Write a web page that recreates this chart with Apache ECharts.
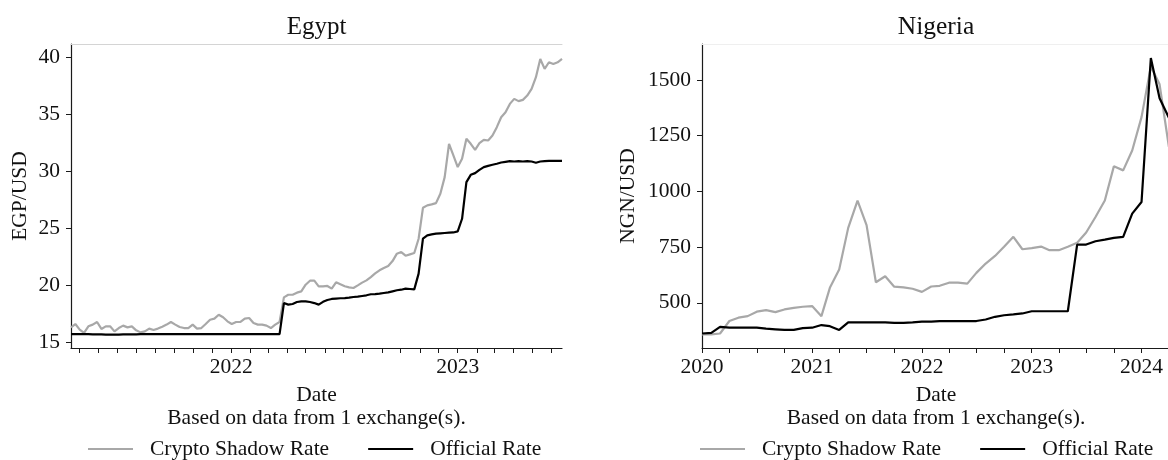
<!DOCTYPE html>
<html>
<head>
<meta charset="utf-8">
<script src="https://cdn.jsdelivr.net/npm/echarts@6/dist/echarts.min.js"></script>
<style>
html, body { margin: 0; padding: 0; background: #ffffff; }
#chart { width: 1168px; height: 460px; }
</style>
</head>
<body>
<div id="chart"></div>
<script>
// ---- Egypt: weekly observations ----
const egyptDates = [
  '2021-04-18','2021-04-25','2021-05-02','2021-05-09','2021-05-16','2021-05-23','2021-05-30','2021-06-06',
  '2021-06-13','2021-06-20','2021-06-27','2021-07-04','2021-07-11','2021-07-18','2021-07-25','2021-08-01',
  '2021-08-08','2021-08-15','2021-08-22','2021-08-29','2021-09-05','2021-09-12','2021-09-19','2021-09-26',
  '2021-10-03','2021-10-10','2021-10-17','2021-10-24','2021-10-31','2021-11-07','2021-11-14','2021-11-21',
  '2021-11-28','2021-12-05','2021-12-12','2021-12-19','2021-12-26','2022-01-02','2022-01-09','2022-01-16',
  '2022-01-23','2022-01-30','2022-02-06','2022-02-13','2022-02-20','2022-02-27','2022-03-06','2022-03-13',
  '2022-03-20','2022-03-27','2022-04-03','2022-04-10','2022-04-17','2022-04-24','2022-05-01','2022-05-08',
  '2022-05-15','2022-05-22','2022-05-29','2022-06-05','2022-06-12','2022-06-19','2022-06-26','2022-07-03',
  '2022-07-10','2022-07-17','2022-07-24','2022-07-31','2022-08-07','2022-08-14','2022-08-21','2022-08-28',
  '2022-09-04','2022-09-11','2022-09-18','2022-09-25','2022-10-02','2022-10-09','2022-10-16','2022-10-23',
  '2022-10-30','2022-11-06','2022-11-13','2022-11-20','2022-11-27','2022-12-04','2022-12-11','2022-12-18',
  '2022-12-25','2023-01-01','2023-01-08','2023-01-15','2023-01-22','2023-01-29','2023-02-05','2023-02-12',
  '2023-02-19','2023-02-26','2023-03-05','2023-03-12','2023-03-19','2023-03-26','2023-04-02','2023-04-09',
  '2023-04-16','2023-04-23','2023-04-30','2023-05-07','2023-05-14','2023-05-21','2023-05-28','2023-06-04',
  '2023-06-11','2023-06-18'
];
const egyptShadow = [
  16.31,16.60,16.11,15.82,16.40,16.55,16.78,16.17,16.40,16.40,15.96,16.25,16.46,16.31,16.40,16.05,
  15.87,15.96,16.20,16.08,16.20,16.37,16.55,16.78,16.55,16.34,16.25,16.25,16.55,16.20,16.25,16.60,
  16.98,17.07,17.42,17.19,16.84,16.60,16.78,16.78,17.07,17.13,16.69,16.55,16.55,16.46,16.25,16.55,
  16.78,18.94,19.17,19.17,19.35,19.46,20.05,20.40,20.40,19.90,19.91,19.94,19.70,20.26,20.08,19.91,
  19.82,19.76,19.99,20.23,20.43,20.72,21.04,21.31,21.51,21.69,22.12,22.77,22.91,22.59,22.71,22.83,
  24.08,26.79,27.00,27.09,27.20,28.02,29.48,32.40,31.38,30.36,31.09,32.84,32.40,31.87,32.46,32.75,
  32.69,33.13,33.86,34.73,35.17,35.90,36.34,36.14,36.25,36.63,37.22,38.24,39.84,38.97,39.55,39.40,
  39.55,39.84
];
const egyptOfficial = [
  15.72,15.72,15.72,15.72,15.71,15.70,15.69,15.69,15.68,15.68,15.68,15.68,15.69,15.69,15.70,15.70,
  15.71,15.71,15.72,15.72,15.72,15.72,15.72,15.72,15.72,15.72,15.72,15.72,15.72,15.72,15.72,15.72,
  15.72,15.72,15.72,15.72,15.72,15.72,15.72,15.72,15.72,15.72,15.72,15.72,15.72,15.72,15.72,15.72,
  15.72,18.44,18.30,18.36,18.53,18.59,18.59,18.53,18.44,18.30,18.55,18.71,18.80,18.83,18.86,18.88,
  18.91,18.97,19.00,19.06,19.12,19.21,19.23,19.26,19.32,19.38,19.47,19.56,19.61,19.70,19.67,19.64,
  21.02,24.08,24.37,24.46,24.52,24.55,24.58,24.61,24.63,24.72,25.83,29.04,29.68,29.83,30.12,30.36,
  30.47,30.56,30.65,30.76,30.82,30.88,30.85,30.88,30.85,30.88,30.85,30.74,30.85,30.88,30.91,30.91,
  30.91,30.91
];

// ---- Nigeria: monthly observations ----
const nigeriaDates = [
  '2020-01-01','2020-02-01','2020-03-01','2020-04-01','2020-05-01','2020-06-01','2020-07-01','2020-08-01',
  '2020-09-01','2020-10-01','2020-11-01','2020-12-01','2021-01-01','2021-02-01','2021-03-01','2021-04-01',
  '2021-05-01','2021-06-01','2021-07-01','2021-08-01','2021-09-01','2021-10-01','2021-11-01','2021-12-01',
  '2022-01-01','2022-02-01','2022-03-01','2022-04-01','2022-05-01','2022-06-01','2022-07-01','2022-08-01',
  '2022-09-01','2022-10-01','2022-11-01','2022-12-01','2023-01-01','2023-02-01','2023-03-01','2023-04-01',
  '2023-05-01','2023-06-01','2023-07-01','2023-08-01','2023-09-01','2023-10-01','2023-11-01','2023-12-01',
  '2024-01-01','2024-02-01','2024-03-01','2024-04-01'
];
const nigeriaShadow = [
  358,358,362,418,433,440,460,467,458,470,477,482,
  485,440,567,649,836,958,848,592,619,572,569,563,
  549,573,576,590,590,586,634,676,710,751,796,740,
  745,752,736,736,751,769,815,885,959,1112,1094,1183,
  1333,1560,1480,1200
];
const nigeriaOfficial = [
  362,365,392,388,388,388,388,384,381,378,378,386,
  388,400,395,378,412,412,412,412,412,410,410,412,
  415,415,418,418,418,418,418,425,437,444,448,452,
  462,462,462,462,462,761,761,776,783,791,796,900,
  952,1598,1418,1330
];

// ---- Axis ticks ----
const egyptYTicks = [15, 20, 25, 30, 35, 40];
const nigeriaYTicks = [500, 750, 1000, 1250, 1500];
const egyptYearTicks = ['2022-01-01', '2023-01-01'];
const nigeriaYearTicks = ['2020-01-01', '2021-01-01', '2022-01-01', '2023-01-01', '2024-01-01'];
const nigeriaEnd = '2024-03-29';

const seriesNames = ['Crypto Shadow Rate', 'Official Rate'];
const FONT = 'Liberation Serif, Times New Roman, serif';
const TXT = '#111111';
const FS = 21.5;

const ts = s => Date.parse(s + 'T00:00:00Z');
const pairs = (dates, vals) => dates.map((d, i) => [ts(d), vals[i]]);

// month-start positions (every `step` months) for the small date ticks
function monthTicks(startStr, endStr, step) {
  const a = ts(startStr), b = ts(endStr);
  const s = new Date(a);
  let y = s.getUTCFullYear(), m = s.getUTCMonth();
  const out = [];
  for (let k = 0; k < 200; k++) {
    const t = Date.UTC(y, m, 1);
    if (t > b) break;
    if (t >= a && m % step === 0) out.push(t);
    m++; if (m > 11) { m = 0; y++; }
  }
  return out;
}

const yearFmt = v => String(new Date(v).getUTCFullYear());
const plainFmt = v => String(v);

function bottomAxis(grid, min, max, ticks, labels) {
  return {
    gridIndex: grid, type: 'value', min: min, max: max, position: 'bottom',
    axisLine: { show: true, onZero: false, lineStyle: { color: '#1a1a1a', width: 1.2 } },
    axisTick: { show: true, customValues: ticks, length: 5, lineStyle: { color: '#1a1a1a', width: 1 } },
    axisLabel: { customValues: labels, formatter: yearFmt, fontFamily: FONT, fontSize: FS, color: TXT, margin: 8 },
    splitLine: { show: false }
  };
}
function topAxis(grid, min, max, color) {
  return {
    gridIndex: grid, type: 'value', min: min, max: max, position: 'top',
    axisLine: { show: true, onZero: false, lineStyle: { color: color, width: 1 } },
    axisTick: { show: false }, axisLabel: { show: false }, splitLine: { show: false }
  };
}
function leftAxis(grid, min, max, ticks) {
  return {
    gridIndex: grid, type: 'value', min: min, max: max,
    axisLine: { show: true, lineStyle: { color: '#1a1a1a', width: 1.2 } },
    axisTick: { show: true, customValues: ticks, length: 5, lineStyle: { color: '#1a1a1a', width: 1 } },
    axisLabel: { customValues: ticks, formatter: plainFmt, fontFamily: FONT, fontSize: FS, color: TXT, margin: 11 },
    splitLine: { show: false }
  };
}

const eMin = ts(egyptDates[0]), eMax = ts(egyptDates[egyptDates.length - 1]);
const nMin = ts(nigeriaDates[0]), nMax = ts(nigeriaEnd);

const shadowStyle = { color: '#a8a8a8', width: 2.2 };
const officialStyle = { color: '#000000', width: 2.2 };

function lineSeries(name, xi, yi, data, style) {
  return {
    name: name, type: 'line', xAxisIndex: xi, yAxisIndex: yi, data: data,
    symbol: 'none', showSymbol: false, clip: true, animation: false,
    lineStyle: style, itemStyle: { color: style.color }, emphasis: { disabled: true }
  };
}

// legend keys are drawn as short flat bars, like line samples
function legendAt(left) {
  return {
    left: left, top: 438, padding: 0, orient: 'horizontal',
    data: seriesNames, icon: 'rect', itemWidth: 45, itemHeight: 2.2, itemGap: 39,
    selectedMode: false,
    textStyle: { fontFamily: FONT, fontSize: FS, color: TXT, padding: [0, 0, 0, 12] }
  };
}

function label(text, x, y, size, rot) {
  return {
    type: 'text', x: x, y: y, rotation: rot || 0, silent: true,
    style: { text: text, fontFamily: FONT, fontSize: size, fill: TXT, align: 'center', verticalAlign: 'middle' }
  };
}

const chart = echarts.init(document.getElementById('chart'), null, { renderer: 'canvas' });
chart.setOption({
  backgroundColor: '#ffffff',
  animation: false,
  grid: [
    { left: 71, top: 44, width: 491, height: 304 },
    { left: 702, top: 44, width: 468, height: 304 }
  ],
  xAxis: [
    bottomAxis(0, eMin, eMax, monthTicks(egyptDates[0], egyptDates[egyptDates.length - 1], 1), egyptYearTicks.map(ts)),
    topAxis(0, eMin, eMax, '#d4d4d4'),
    bottomAxis(1, nMin, nMax, monthTicks(nigeriaDates[0], nigeriaEnd, 3), nigeriaYearTicks.map(ts)),
    topAxis(1, nMin, nMax, '#efefef')
  ],
  yAxis: [
    leftAxis(0, 14.5, 41.15, egyptYTicks),
    leftAxis(1, 297, 1661, nigeriaYTicks)
  ],
  legend: [legendAt(88), legendAt(700)],
  series: [
    lineSeries(seriesNames[0], 0, 0, pairs(egyptDates, egyptShadow), shadowStyle),
    lineSeries(seriesNames[1], 0, 0, pairs(egyptDates, egyptOfficial), officialStyle),
    lineSeries(seriesNames[0], 2, 1, pairs(nigeriaDates, nigeriaShadow), shadowStyle),
    lineSeries(seriesNames[1], 2, 1, pairs(nigeriaDates, nigeriaOfficial), officialStyle)
  ],
  graphic: [
    label('Egypt', 316.5, 27, 25),
    label('Nigeria', 936, 27, 25.5),
    label('Date', 316.5, 395, FS),
    label('Date', 936, 395, FS),
    label('Based on data from 1 exchange(s).', 316.5, 418.5, FS),
    label('Based on data from 1 exchange(s).', 936, 418.5, FS),
    label('EGP/USD', 20, 196, FS, Math.PI / 2),
    label('NGN/USD', 628, 196, FS, Math.PI / 2)
  ]
});
</script>
</body>
</html>
